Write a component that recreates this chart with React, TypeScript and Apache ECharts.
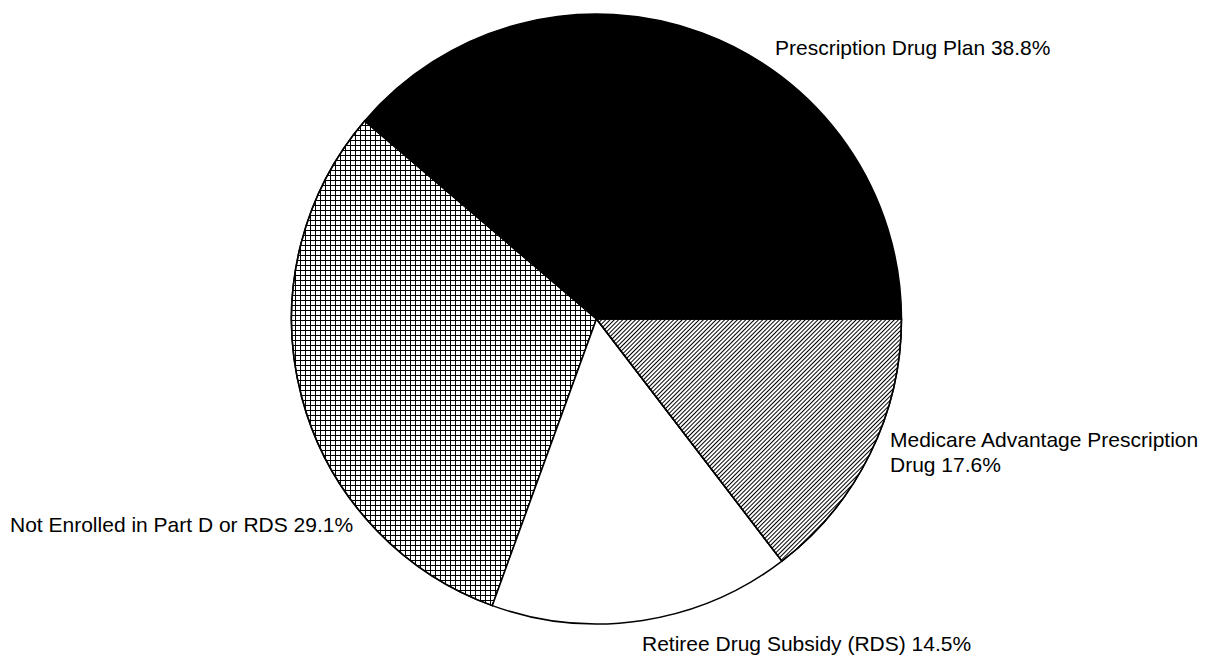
import React, { useEffect, useRef } from "react";
import * as echarts from "echarts";

// Category names, in drawing order (counter-clockwise from 3 o'clock)
const categories: string[] = [
  "Prescription Drug Plan",
  "Not Enrolled in Part D or RDS",
  "Retiree Drug Subsidy (RDS)",
  "Medicare Advantage Prescription Drug",
];

const sliceShares: number[] = [38.75, 30.7, 15.95, 14.6];

// Percentages printed in the labels
const printedPercents: string[] = ["38.8", "29.1", "14.5", "17.6"];

const FONT = "'Liberation Sans', Arial, Helvetica, sans-serif";

const labelSpots = [
  { x: 775, y: 47 },
  { x: 10, y: 524 },
  { x: 642, y: 643 },
  { x: 890, y: 452 },
];

const styles = [
  { color: "#000000" },
  {
    color: "#ffffff",
    decal: {
      symbol: "rect",
      symbolSize: 1,
      color: "#000000",
      backgroundColor: null,
      dashArrayX: [
        [1, 0],
        [1, 4],
      ],
      dashArrayY: [1, 0, 4, 0],
      rotation: 0,
    },
  },
  { color: "#ffffff" },
  {
    color: "#ffffff",
    decal: {
      symbol: "rect",
      symbolSize: 1,
      color: "#000000",
      backgroundColor: null,
      dashArrayX: [1, 0],
      dashArrayY: [1, 2],
      rotation: -Math.PI / 4,
    },
  },
];

function labelText(name: string, i: number): string {
  const text = `${name} ${printedPercents[i]}%`;
  if (i === 3) {
    const cut = name.lastIndexOf(" ");
    return `${name.slice(0, cut)}\n${name.slice(cut + 1)} ${printedPercents[i]}%`;
  }
  return text;
}

export default function App() {
  const ref = useRef<HTMLDivElement>(null);

  useEffect(() => {
    document.body.style.margin = "0";
    if (!ref.current) return;
    const chart = echarts.init(ref.current, undefined, { renderer: "svg" });

    const data = categories.map((name, i) => ({
      name,
      value: sliceShares[i],
      itemStyle: {
        ...styles[i],
        borderColor: "#000",
        borderWidth: 1.5,
      },
    }));

    chart.setOption({
      animation: false,
      backgroundColor: "#ffffff",
      series: [
        {
          type: "pie",
          silent: true,
          center: [596.5, 319],
          radius: 305,
          startAngle: 0,
          clockwise: false,
          avoidLabelOverlap: false,
          data,
          label: {
            show: true,
            position: "outside",
            fontFamily: FONT,
            fontSize: 21,
            color: "#000",
            lineHeight: 25,
            formatter: (p: any) => labelText(p.name, p.dataIndex),
          },
          labelLine: { show: false },
          labelLayout: (params: any) => {
            const s = labelSpots[params.dataIndex];
            return { x: s.x, y: s.y, align: "left", verticalAlign: "middle" };
          },
        },
      ],
    });

    return () => chart.dispose();
  }, []);

  return <div ref={ref} style={{ width: 1206, height: 658 }} />;
}
